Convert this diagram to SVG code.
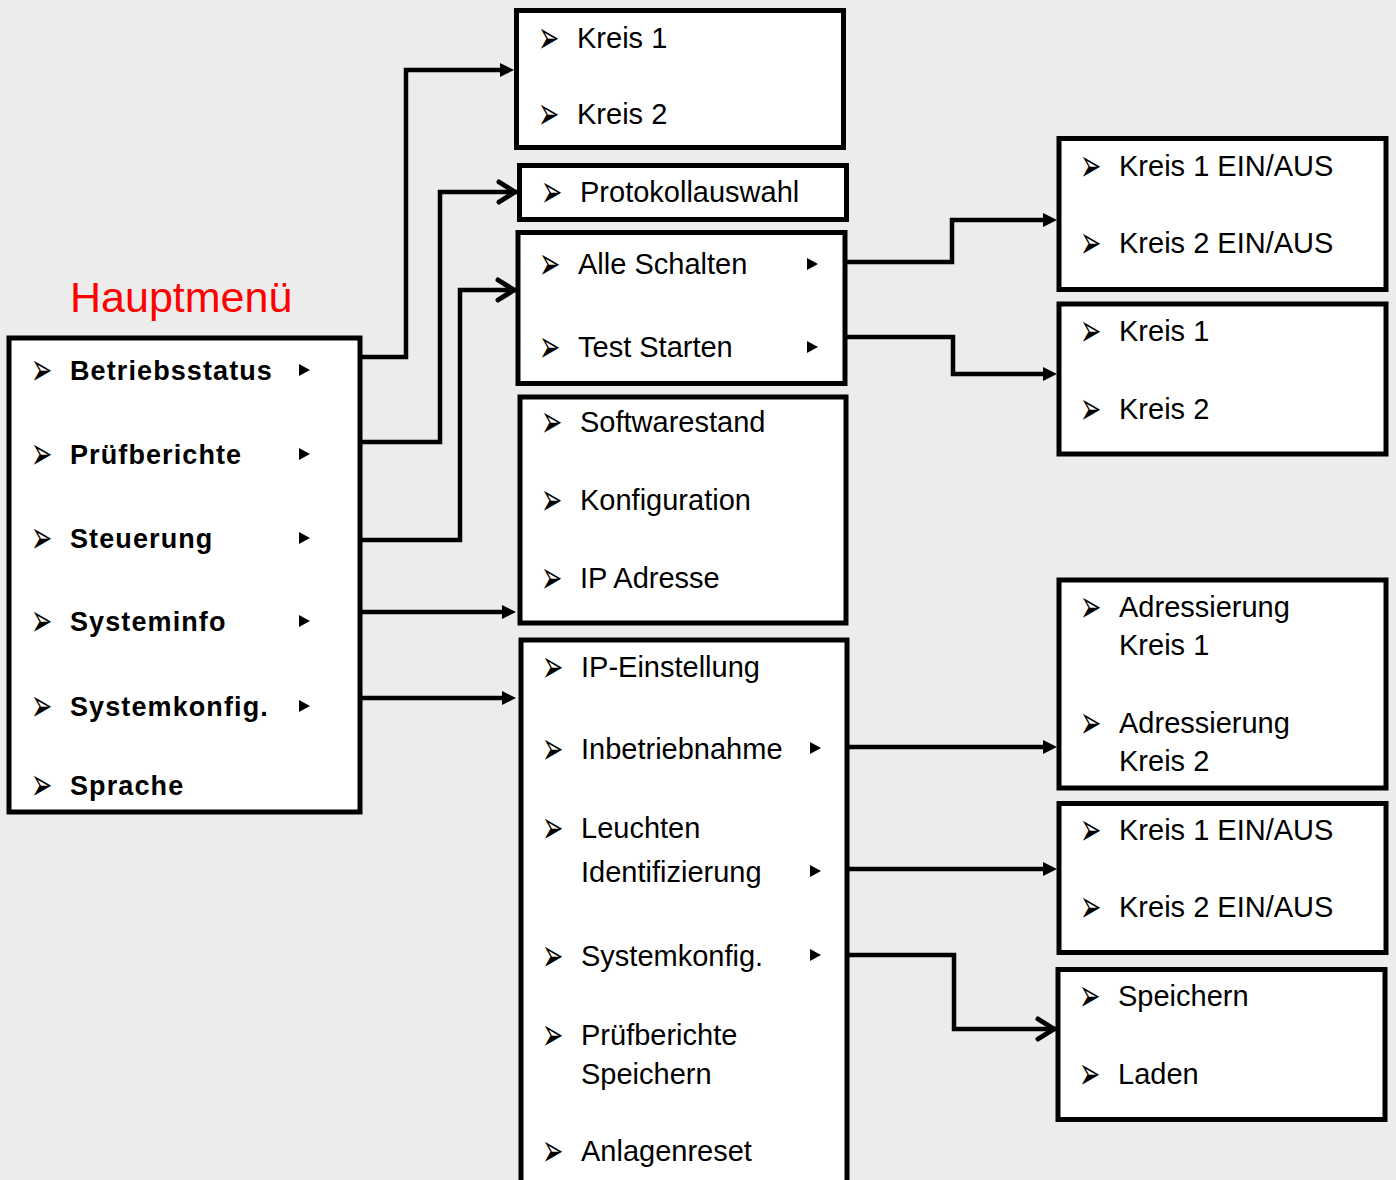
<svg xmlns="http://www.w3.org/2000/svg" width="1396" height="1180" viewBox="0 0 1396 1180">
<style>
.box{fill:#fff;stroke:#000;stroke-width:5}
.t{font-family:"Liberation Sans",Arial,sans-serif;font-size:29px;fill:#000}
.b{font-weight:bold;font-size:27px;letter-spacing:1.1px}
.bul{font-family:"DejaVu Sans",sans-serif;font-size:38px;fill:#000}
.conn{fill:none;stroke:#000;stroke-width:4.5}
.title{font-family:"Liberation Sans",Arial,sans-serif;font-size:43px;fill:#ff0000}
</style>
<defs>
<marker id="af" markerUnits="userSpaceOnUse" markerWidth="16" markerHeight="16" refX="6" refY="7" orient="auto"><path d="M0,0 L14,7 L0,14 z" fill="#000"/></marker>
<marker id="ao" markerUnits="userSpaceOnUse" markerWidth="30" markerHeight="30" refX="22" refY="13" orient="auto"><path d="M4,3 L20,13 L4,23" fill="none" stroke="#000" stroke-width="5" stroke-linecap="round" stroke-linejoin="round"/></marker>
<polygon id="tri" points="0,-6 11,0 0,6" fill="#000"/>
</defs>
<rect width="1396" height="1180" fill="#ececec"/>

<text class="title" x="70" y="312">Hauptmenü</text>

<g id="main">
<rect class="box" x="9" y="338" width="351" height="474"/>
<text class="bul" transform="translate(31,385) scale(0.67,1.2)">➢</text><text class="t b" x="70" y="380">Betriebsstatus</text><use href="#tri" x="299" y="370"/>
<text class="bul" transform="translate(31,469) scale(0.67,1.2)">➢</text><text class="t b" x="70" y="464">Prüfberichte</text><use href="#tri" x="299" y="454"/>
<text class="bul" transform="translate(31,553) scale(0.67,1.2)">➢</text><text class="t b" x="70" y="548">Steuerung</text><use href="#tri" x="299" y="538"/>
<text class="bul" transform="translate(31,636) scale(0.67,1.2)">➢</text><text class="t b" x="70" y="631">Systeminfo</text><use href="#tri" x="299" y="621"/>
<text class="bul" transform="translate(31,721) scale(0.67,1.2)">➢</text><text class="t b" x="70" y="716">Systemkonfig.</text><use href="#tri" x="299" y="706"/>
<text class="bul" transform="translate(31,800) scale(0.67,1.2)">➢</text><text class="t b" x="70" y="795">Sprache</text>
</g>

<g id="kreise">
<rect class="box" x="516.5" y="10.5" width="327" height="137"/>
<text class="bul" transform="translate(538,53) scale(0.67,1.2)">➢</text><text class="t" x="577" y="48">Kreis 1</text>
<text class="bul" transform="translate(538,129) scale(0.67,1.2)">➢</text><text class="t" x="577" y="124">Kreis 2</text>
</g>

<g id="protokoll">
<rect class="box" x="519.5" y="165.5" width="327" height="54"/>
<text class="bul" transform="translate(541,207) scale(0.67,1.2)">➢</text><text class="t" x="580" y="202">Protokollauswahl</text>
</g>

<g id="steuerung">
<rect class="box" x="518" y="232.5" width="327" height="151"/>
<text class="bul" transform="translate(539,279) scale(0.67,1.2)">➢</text><text class="t" x="578" y="274">Alle Schalten</text><use href="#tri" x="807" y="264"/>
<text class="bul" transform="translate(539,362) scale(0.67,1.2)">➢</text><text class="t" x="578" y="357">Test Starten</text><use href="#tri" x="807" y="347"/>
</g>

<g id="systeminfo">
<rect class="box" x="520" y="397" width="326" height="226"/>
<text class="bul" transform="translate(541,437) scale(0.67,1.2)">➢</text><text class="t" x="580" y="432">Softwarestand</text>
<text class="bul" transform="translate(541,515) scale(0.67,1.2)">➢</text><text class="t" x="580" y="510">Konfiguration</text>
<text class="bul" transform="translate(541,593) scale(0.67,1.2)">➢</text><text class="t" x="580" y="588">IP Adresse</text>
</g>

<g id="systemkonfig">
<rect class="box" x="521" y="640" width="326" height="560"/>
<text class="bul" transform="translate(542,682) scale(0.67,1.2)">➢</text><text class="t" x="581" y="677">IP-Einstellung</text>
<text class="bul" transform="translate(542,764) scale(0.67,1.2)">➢</text><text class="t" x="581" y="759">Inbetriebnahme</text><use href="#tri" x="810" y="748"/>
<text class="bul" transform="translate(542,843) scale(0.67,1.2)">➢</text><text class="t" x="581" y="838">Leuchten</text>
<text class="t" x="581" y="882">Identifizierung</text><use href="#tri" x="810" y="871"/>
<text class="bul" transform="translate(542,971) scale(0.67,1.2)">➢</text><text class="t" x="581" y="966">Systemkonfig.</text><use href="#tri" x="810" y="955"/>
<text class="bul" transform="translate(542,1050) scale(0.67,1.2)">➢</text><text class="t" x="581" y="1045">Prüfberichte</text>
<text class="t" x="581" y="1084">Speichern</text>
<text class="bul" transform="translate(542,1166) scale(0.67,1.2)">➢</text><text class="t" x="581" y="1161">Anlagenreset</text>
</g>

<g id="schalten">
<rect class="box" x="1059" y="138.5" width="327" height="151"/>
<text class="bul" transform="translate(1080,181) scale(0.67,1.2)">➢</text><text class="t" x="1119" y="176">Kreis 1 EIN/AUS</text>
<text class="bul" transform="translate(1080,258) scale(0.67,1.2)">➢</text><text class="t" x="1119" y="253">Kreis 2 EIN/AUS</text>
</g>

<g id="test">
<rect class="box" x="1059" y="304" width="327" height="150"/>
<text class="bul" transform="translate(1080,346) scale(0.67,1.2)">➢</text><text class="t" x="1119" y="341">Kreis 1</text>
<text class="bul" transform="translate(1080,424) scale(0.67,1.2)">➢</text><text class="t" x="1119" y="419">Kreis 2</text>
</g>

<g id="adressierung">
<rect class="box" x="1059" y="580" width="327" height="208"/>
<text class="bul" transform="translate(1080,622) scale(0.67,1.2)">➢</text><text class="t" x="1119" y="617">Adressierung</text>
<text class="t" x="1119" y="655">Kreis 1</text>
<text class="bul" transform="translate(1080,738) scale(0.67,1.2)">➢</text><text class="t" x="1119" y="733">Adressierung</text>
<text class="t" x="1119" y="771">Kreis 2</text>
</g>

<g id="leuchten">
<rect class="box" x="1059" y="803.5" width="327" height="149"/>
<text class="bul" transform="translate(1080,845) scale(0.67,1.2)">➢</text><text class="t" x="1119" y="840">Kreis 1 EIN/AUS</text>
<text class="bul" transform="translate(1080,922) scale(0.67,1.2)">➢</text><text class="t" x="1119" y="917">Kreis 2 EIN/AUS</text>
</g>

<g id="speichern">
<rect class="box" x="1058" y="969.5" width="327" height="150"/>
<text class="bul" transform="translate(1079,1011) scale(0.67,1.2)">➢</text><text class="t" x="1118" y="1006">Speichern</text>
<text class="bul" transform="translate(1079,1089) scale(0.67,1.2)">➢</text><text class="t" x="1118" y="1084">Laden</text>
</g>

<g id="connectors">
<path class="conn" d="M362,357 H406 V70 H506" marker-end="url(#af)"/>
<path class="conn" d="M362,442 H440 V192 H517" marker-end="url(#ao)"/>
<path class="conn" d="M362,540 H460 V290 H516" marker-end="url(#ao)"/>
<path class="conn" d="M362,612 H508" marker-end="url(#af)"/>
<path class="conn" d="M362,698 H508" marker-end="url(#af)"/>
<path class="conn" d="M847,262 H952 V220 H1049" marker-end="url(#af)"/>
<path class="conn" d="M847,337 H953 V374 H1049" marker-end="url(#af)"/>
<path class="conn" d="M849,747 H1049" marker-end="url(#af)"/>
<path class="conn" d="M849,869 H1049" marker-end="url(#af)"/>
<path class="conn" d="M849,955 H954 V1029 H1056" marker-end="url(#ao)"/>
</g>
</svg>
